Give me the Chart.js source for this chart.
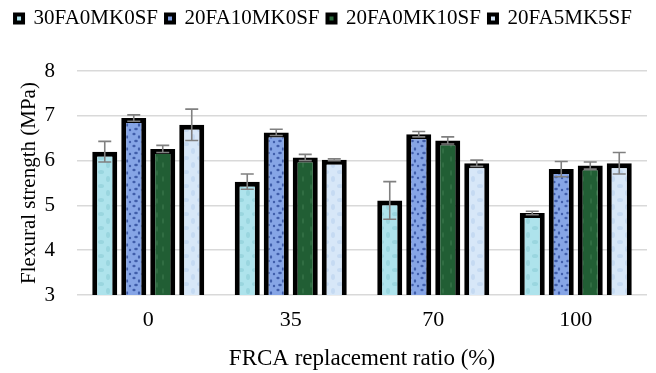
<!DOCTYPE html>
<html>
<head>
<meta charset="utf-8">
<script src="https://cdn.jsdelivr.net/npm/chart.js@4"></script>
<style>
  html, body { margin: 0; padding: 0; background: #fff; }
  #wrap { width: 656px; height: 373px; }
</style>
</head>
<body>
<div id="wrap"><canvas id="myChart" width="656" height="373"></canvas></div>
<script>
const categories = ['0', '35', '70', '100'];
const seriesNames = ['30FA0MK0SF', '20FA10MK0SF', '20FA0MK10SF', '20FA5MK5SF'];

const fa30 = [6.20, 5.53, 5.11, 4.83];
const fa20mk10 = [6.95, 6.63, 6.59, 5.81];
const fa20sf10 = [6.26, 6.07, 6.45, 5.89];
const fa20mk5sf5 = [6.80, 6.02, 5.94, 5.94];

const errFa30 = [0.23, 0.17, 0.42, 0.04];
const errFa20mk10 = [0.07, 0.07, 0.06, 0.17];
const errFa20sf10 = [0.08, 0.07, 0.08, 0.08];
const errFa20mk5sf5 = [0.35, 0.02, 0.07, 0.24];

const yTicks = [3, 4, 5, 6, 7, 8];

const serif = "'Liberation Serif', 'Times New Roman', serif";

// small textured tiles to imitate the picture fills
function makePattern(base, spot, spots, size) {
    const c = document.createElement('canvas');
    c.width = size; c.height = size;
    const g = c.getContext('2d');
    g.fillStyle = base;
    g.fillRect(0, 0, size, size);
    g.fillStyle = spot;
    spots.forEach(s => {
        g.beginPath();
        g.ellipse(s[0], s[1], s[2], s[3], 0, 0, Math.PI * 2);
        g.fill();
    });
    return g.createPattern(c, 'repeat');
}

const ctx = document.getElementById('myChart').getContext('2d');

const fills = [
    makePattern('#aee3ec', 'rgba(140,205,215,0.6)', [[3, 4, 3, 2], [10, 11, 2, 3]], 14),
    makePattern('#86a5e6', 'rgba(40,70,150,0.75)', [[2, 2, 1.6, 1.2], [7, 5, 1.2, 1.8], [4, 9, 1.8, 1.2], [10, 10, 1.2, 1.2]], 12),
    makePattern('#215e34', 'rgba(70,130,85,0.5)', [[3, 5, 1, 3], [9, 11, 1, 3]], 14),
    makePattern('#d7e7f8', 'rgba(190,212,240,0.7)', [[4, 4, 3, 2], [11, 11, 2, 3]], 14)
];
const legendFills = ['#aee3ec', '#7f9fe2', '#2a6a3c', '#d7e7f8'];

const values = [fa30, fa20mk10, fa20sf10, fa20mk5sf5];
const errors = [errFa30, errFa20mk10, errFa20sf10, errFa20mk5sf5];

const data = {
    labels: categories,
    datasets: values.map((v, i) => ({
        label: seriesNames[i],
        data: v,
        errors: errors[i],
        backgroundColor: fills[i],
        borderColor: '#000',
        borderWidth: 5,
        borderSkipped: false,
        categoryPercentage: 0.814,
        barPercentage: 0.862
    }))
};

const errorBars = {
    id: 'errorBars',
    afterDatasetsDraw(chart) {
        const c = chart.ctx;
        const y = chart.scales.y;
        c.save();
        c.strokeStyle = '#808080';
        c.lineWidth = 1.6;
        chart.data.datasets.forEach((ds, i) => {
            const meta = chart.getDatasetMeta(i);
            meta.data.forEach((bar, j) => {
                const hi = y.getPixelForValue(ds.data[j] + ds.errors[j]);
                const lo = y.getPixelForValue(ds.data[j] - ds.errors[j]);
                c.beginPath();
                c.moveTo(bar.x, hi); c.lineTo(bar.x, lo);
                c.moveTo(bar.x - 6.5, hi); c.lineTo(bar.x + 6.5, hi);
                c.moveTo(bar.x - 6.5, lo); c.lineTo(bar.x + 6.5, lo);
                c.stroke();
            });
        });
        c.restore();
    }
};

// extra room under the legend
const legendMargin = {
    id: 'legendMargin',
    beforeInit(chart) {
        const fit = chart.legend.fit;
        chart.legend.fit = function () {
            fit.bind(this)();
            this.height += 32;
        };
    }
};

const options = {
    responsive: false,
    animation: false,
    layout: { padding: { left: 0, right: 9, top: 0, bottom: 0 } },
    plugins: {
        legend: {
            position: 'top',
            labels: {
                font: { family: serif, size: 21 },
                color: '#000',
                boxWidth: 8,
                boxHeight: 8,
                padding: 8,
                generateLabels: (chart) => chart.data.datasets.map((ds, i) => ({
                    text: ds.label,
                    fillStyle: legendFills[i],
                    strokeStyle: '#000',
                    lineWidth: 4,
                    datasetIndex: i
                }))
            }
        },
        tooltip: { enabled: false }
    },
    scales: {
        x: {
            grid: { display: false },
            border: { display: false },
            ticks: { font: { family: serif, size: 22 }, color: '#000', padding: 4 },
            title: {
                display: true,
                text: 'FRCA replacement ratio (%)',
                font: { family: serif, size: 23 },
                color: '#000',
                padding: { top: 8, bottom: 0 }
            }
        },
        y: {
            min: 3,
            max: 8,
            afterBuildTicks: (s) => { s.ticks = yTicks.map(v => ({ value: v })); },
            afterFit: (s) => { s.width = 77; },
            grid: { color: '#d9d9d9', lineWidth: 1.5, drawTicks: false },
            border: { display: false },
            ticks: { font: { family: serif, size: 21 }, color: '#000', padding: 22 },
            title: {
                display: true,
                text: 'Flexural strength (MPa)',
                font: { family: serif, size: 21 },
                color: '#000',
                padding: { top: 17, bottom: 0 }
            }
        }
    }
};

const myChart = new Chart(ctx, {
    type: 'bar',
    data: data,
    options: options,
    plugins: [errorBars, legendMargin]
});
</script>
</body>
</html>
